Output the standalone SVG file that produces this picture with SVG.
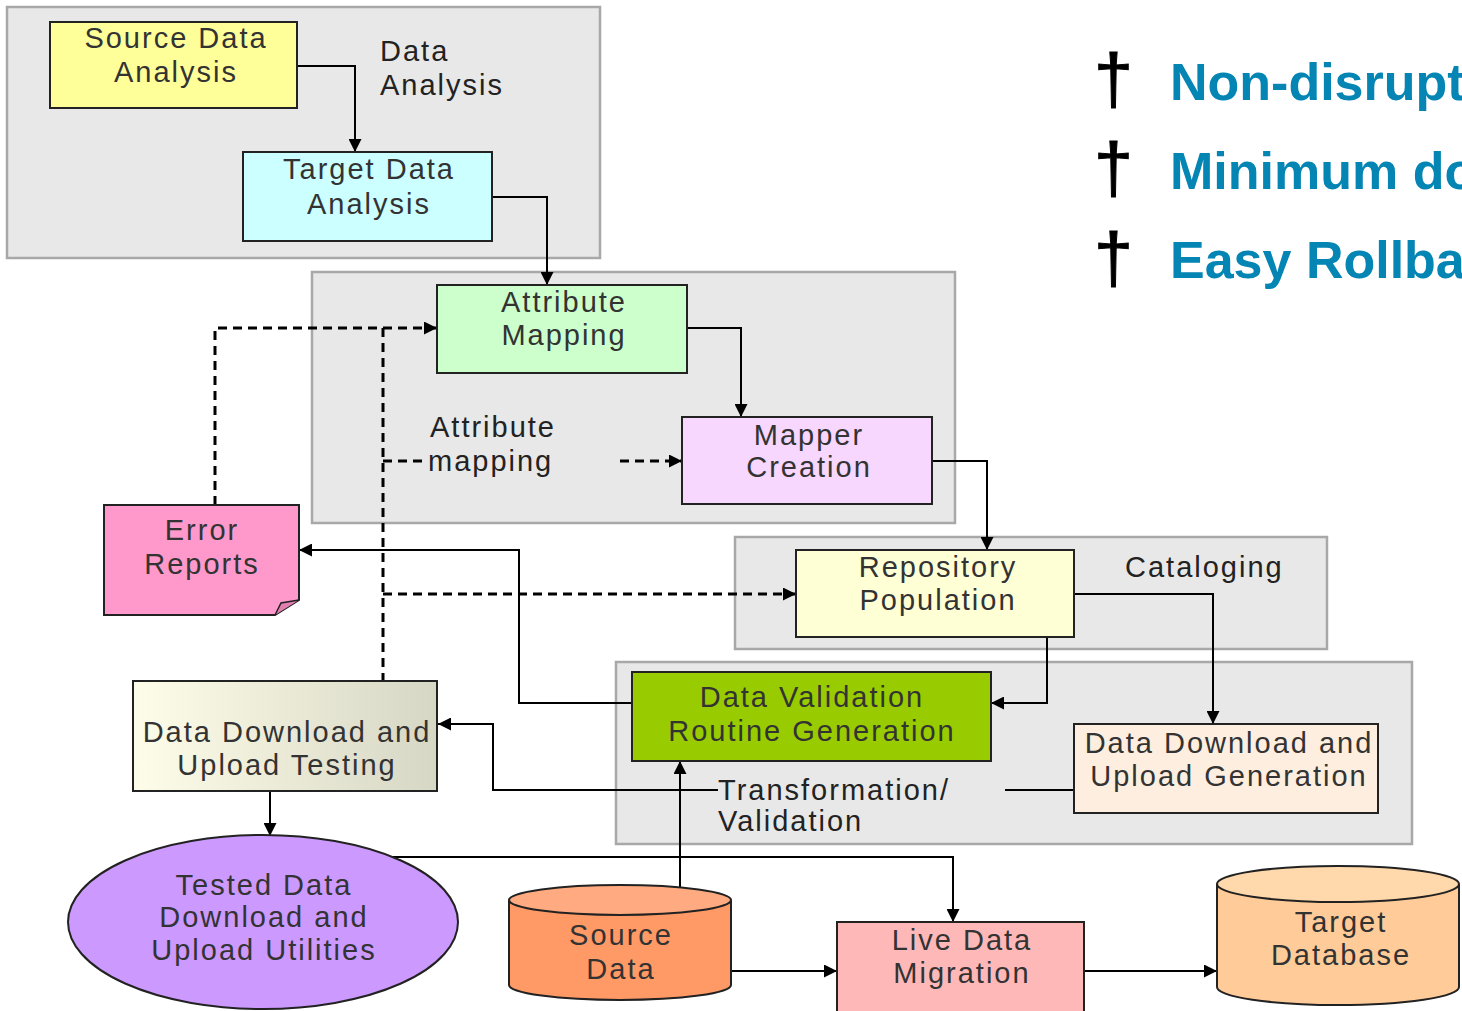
<svg xmlns="http://www.w3.org/2000/svg" width="1462" height="1011" viewBox="0 0 1462 1011">
<defs>
<style>
.grp{fill:#e8e8e8;stroke:#a8a8a8;stroke-width:2.5}
.box{stroke:#222;stroke-width:2}
.t{font-family:"Liberation Sans",Arial,sans-serif;font-size:29px;letter-spacing:2px;fill:#333;text-anchor:middle}
.l{font-family:"Liberation Sans",Arial,sans-serif;font-size:29px;letter-spacing:2px;fill:#222}
.c{fill:none;stroke:#000;stroke-width:2}
.d{fill:none;stroke:#000;stroke-width:3;stroke-dasharray:9 6}
.b{font-family:"Liberation Sans",Arial,sans-serif;font-size:52px;font-weight:bold;fill:#0485b3}
.dg{font-family:"Liberation Sans",Arial,sans-serif;font-size:70px;fill:#000;stroke:#000;stroke-width:1}
</style>
<marker id="ah" viewBox="0 0 13 13" refX="13" refY="6.5" markerWidth="13" markerHeight="13" markerUnits="userSpaceOnUse" orient="auto">
<path d="M0,0 L13,6.5 L0,13 Z" fill="#000"/>
</marker>
<linearGradient id="gt" x1="0" y1="0" x2="1" y2="0">
<stop offset="0" stop-color="#fdfde9"/>
<stop offset="1" stop-color="#d7d7c5"/>
</linearGradient>
</defs>
<rect width="1462" height="1011" fill="#fff"/>

<g id="group-data-analysis">
<rect class="grp" x="7" y="7" width="593" height="251"/>
<text class="l" x="380" y="61">Data</text>
<text class="l" x="380" y="95">Analysis</text>
</g>
<g id="group-attribute-mapping">
<rect class="grp" x="312" y="272" width="643" height="251"/>
</g>
<g id="group-cataloging">
<rect class="grp" x="735" y="537" width="592" height="112"/>
<text class="l" x="1125" y="577">Cataloging</text>
</g>
<g id="group-transformation">
<rect class="grp" x="616" y="662" width="796" height="182"/>
</g>

<g id="connectors">
<polyline class="c" points="297,66 355,66 355,152" marker-end="url(#ah)"/>
<polyline class="c" points="492,197 547,197 547,285" marker-end="url(#ah)"/>
<polyline class="c" points="687,328 741,328 741,417" marker-end="url(#ah)"/>
<polyline class="c" points="932,461 987,461 987,550" marker-end="url(#ah)"/>
<polyline class="c" points="1074,594 1213,594 1213,724" marker-end="url(#ah)"/>
<polyline class="c" points="1047,637 1047,703 991,703" marker-end="url(#ah)"/>
<polyline class="c" points="632,703 519,703 519,550 299,550" marker-end="url(#ah)"/>
<line class="c" x1="1074" y1="790" x2="1005" y2="790"/>
<polyline class="c" points="718,790 493,790 493,724 438,724" marker-end="url(#ah)"/>
<line class="c" x1="680" y1="897" x2="680" y2="761" marker-end="url(#ah)"/>
<line class="c" x1="270" y1="791" x2="270" y2="836" marker-end="url(#ah)"/>
<polyline class="c" points="383,857 953,857 953,922" marker-end="url(#ah)"/>
<line class="c" x1="731" y1="971" x2="837" y2="971" marker-end="url(#ah)"/>
<line class="c" x1="1084" y1="971" x2="1217" y2="971" marker-end="url(#ah)"/>
<polyline class="d" points="215,505 215,328 437,328" marker-end="url(#ah)"/>
<line class="d" x1="383" y1="328" x2="383" y2="681"/>
<line class="d" x1="383" y1="461" x2="428" y2="461"/>
<line class="d" x1="620" y1="461" x2="682" y2="461" marker-end="url(#ah)"/>
<line class="d" x1="383" y1="594" x2="796" y2="594" marker-end="url(#ah)"/>
</g>

<g id="label-attribute-mapping">
<text class="l" x="430" y="437">Attribute</text>
<text class="l" x="428" y="471">mapping</text>
</g>
<g id="label-transformation">
<text class="l" x="718" y="800">Transformation/</text>
<text class="l" x="718" y="831">Validation</text>
</g>

<g id="node-source-data-analysis">
<rect class="box" x="50" y="22" width="247" height="86" fill="#ffff99"/>
<text class="t" x="176" y="48">Source Data</text>
<text class="t" x="176" y="82">Analysis</text>
</g>
<g id="node-target-data-analysis">
<rect class="box" x="243" y="152" width="249" height="89" fill="#ccffff"/>
<text class="t" x="369" y="179">Target Data</text>
<text class="t" x="369" y="214">Analysis</text>
</g>
<g id="node-attribute-mapping">
<rect class="box" x="437" y="285" width="250" height="88" fill="#ccffcc"/>
<text class="t" x="564" y="312">Attribute</text>
<text class="t" x="564" y="345">Mapping</text>
</g>
<g id="node-mapper-creation">
<rect class="box" x="682" y="417" width="250" height="87" fill="#f7d7fd"/>
<text class="t" x="809" y="445">Mapper</text>
<text class="t" x="809" y="477">Creation</text>
</g>
<g id="node-error-reports">
<path class="box" d="M104,505 H299 V600 L275,615 H104 Z" fill="#ff99cc"/>
<path d="M275,615 L281,603 L299,600" fill="#e37fb0" stroke="#222" stroke-width="1.5"/>
<text class="t" x="202" y="540">Error</text>
<text class="t" x="202" y="574">Reports</text>
</g>
<g id="node-repository-population">
<rect class="box" x="796" y="550" width="278" height="87" fill="#ffffd6"/>
<text class="t" x="938" y="577">Repository</text>
<text class="t" x="938" y="610">Population</text>
</g>
<g id="node-data-validation">
<rect class="box" x="632" y="672" width="359" height="89" fill="#99cc00"/>
<text class="t" x="812" y="707">Data Validation</text>
<text class="t" x="812" y="741">Routine Generation</text>
</g>
<g id="node-download-upload-generation">
<rect class="box" x="1074" y="724" width="304" height="89" fill="#fdeee0"/>
<text class="t" x="1229" y="753">Data Download and</text>
<text class="t" x="1229" y="786">Upload Generation</text>
</g>
<g id="node-download-upload-testing">
<rect class="box" x="133" y="681" width="304" height="110" fill="url(#gt)"/>
<text class="t" x="287" y="742">Data Download and</text>
<text class="t" x="287" y="775">Upload Testing</text>
</g>
<g id="node-tested-utilities">
<ellipse class="box" cx="263" cy="922" rx="195" ry="87" fill="#cc99ff"/>
<text class="t" x="264" y="895">Tested Data</text>
<text class="t" x="264" y="927">Download and</text>
<text class="t" x="264" y="960">Upload Utilities</text>
</g>
<g id="node-source-data">
<path class="box" d="M509,900 V985 A111,15 0 0 0 731,985 V900" fill="#ff9966"/>
<ellipse class="box" cx="620" cy="900" rx="111" ry="15" fill="#ffaa80"/>
<text class="t" x="621" y="945">Source</text>
<text class="t" x="621" y="979">Data</text>
</g>
<g id="node-live-data-migration">
<rect class="box" x="837" y="922" width="247" height="95" fill="#ffb8b8"/>
<text class="t" x="962" y="950">Live Data</text>
<text class="t" x="962" y="983">Migration</text>
</g>
<g id="node-target-database">
<path class="box" d="M1217,884 V987 A121,18 0 0 0 1459,987 V884" fill="#ffcc99"/>
<ellipse class="box" cx="1338" cy="884" rx="121" ry="18" fill="#ffd8ab"/>
<text class="t" x="1341" y="932">Target</text>
<text class="t" x="1341" y="965">Database</text>
</g>

<g id="bullets">
<text class="dg" x="1094" y="103">†</text>
<text class="dg" x="1094" y="192">†</text>
<text class="dg" x="1094" y="282">†</text>
<text class="b" x="1170" y="100">Non-disrupt</text>
<text class="b" x="1170" y="189">Minimum do</text>
<text class="b" x="1170" y="278">Easy Rollba</text>
</g>
</svg>
